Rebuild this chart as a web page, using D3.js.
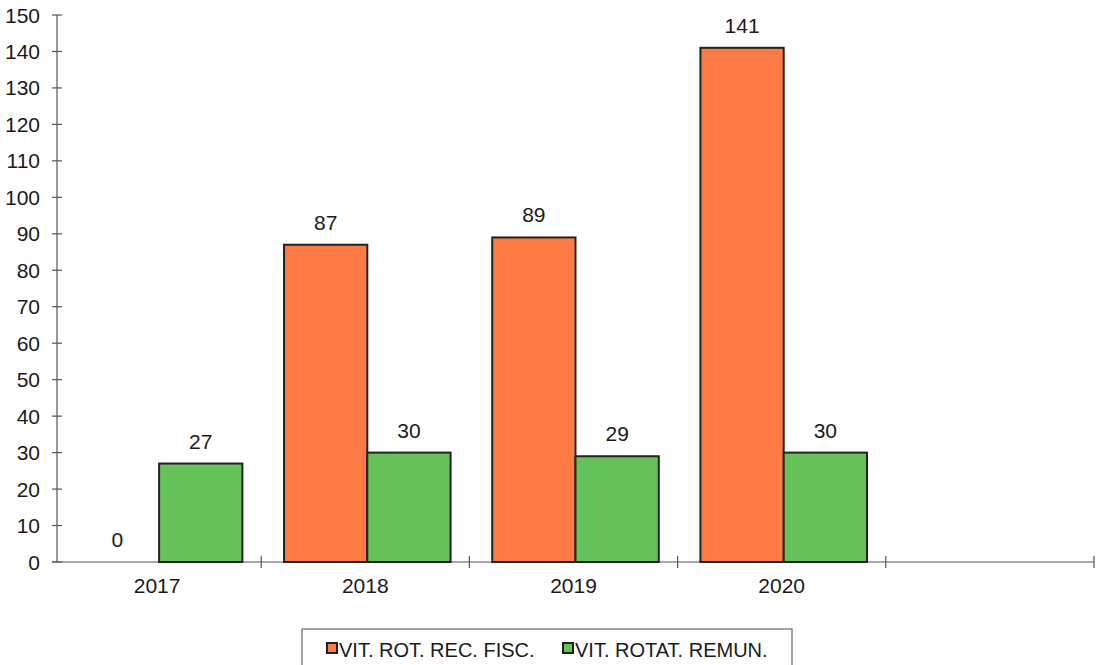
<!DOCTYPE html>
<html>
<head>
<meta charset="utf-8">
<script src="https://cdn.jsdelivr.net/npm/d3@7"></script>
<style>
  body { margin: 0; background: #fff; }
  text { font-family: "Liberation Sans", Arial, sans-serif; fill: #1a1a1a; }
</style>
</head>
<body>
<div id="chart"></div>
<script>
// categories (last slot is empty in the original chart)
const years = ["2017", "2018", "2019", "2020", ""];
const series = ["VIT. ROT. REC. FISC.", "VIT. ROTAT. REMUN."];
const fiscValues = [0, 87, 89, 141, null];
const remunValues = [27, 30, 29, 30, null];
const colors = ["#ff7b45", "#66c35a"];
const yTicks = d3.range(0, 151, 10);

const W = 1097, H = 665;
const svg = d3.select("#chart").append("svg")
  .attr("width", W).attr("height", H);

// scales
const x0 = d3.scaleBand().domain(years).range([53, 1094]);
const x1 = d3.scaleBand().domain(series).range([0, x0.bandwidth()])
  .paddingInner(0).paddingOuter(0.25);
const y = d3.scaleLinear().domain([0, 150]).range([562, 15]);

// y axis
const yAxis = svg.append("g").attr("transform", "translate(57,0)");
yAxis.append("line").attr("y1", y(0)).attr("y2", y(150)).attr("stroke", "#555").attr("stroke-width", 1.2);
yAxis.selectAll(".tk").data(yTicks).join("line")
  .attr("x1", -5).attr("x2", 5)
  .attr("y1", d => y(d)).attr("y2", d => y(d))
  .attr("stroke", "#555").attr("stroke-width", 1.2);
yAxis.selectAll(".lb").data(yTicks).join("text")
  .attr("x", -17).attr("y", d => y(d)).attr("dy", "0.36em")
  .attr("text-anchor", "end").attr("font-size", 21)
  .text(d => d);

// x axis
const xAxis = svg.append("g");
xAxis.append("line").attr("x1", 52).attr("x2", 1094)
  .attr("y1", y(0)).attr("y2", y(0)).attr("stroke", "#555").attr("stroke-width", 1.2);
const boundaries = years.map(d => x0(d)).concat([x0.range()[1]]).slice(1);
xAxis.selectAll(".tk").data(boundaries).join("line")
  .attr("x1", d => d).attr("x2", d => d)
  .attr("y1", y(0) - 6).attr("y2", y(0) + 6)
  .attr("stroke", "#555").attr("stroke-width", 1.2);
xAxis.selectAll(".lb").data(years).join("text")
  .attr("x", d => x0(d) + x0.bandwidth() / 2)
  .attr("y", 593).attr("text-anchor", "middle").attr("font-size", 21)
  .text(d => d);

// bars
const rows = years.map((yr, i) => ({ yr, vals: [fiscValues[i], remunValues[i]] }))
  .filter(r => r.vals[0] !== null);
const groups = svg.selectAll(".grp").data(rows).join("g")
  .attr("transform", d => `translate(${x0(d.yr) + 2},0)`);
groups.selectAll("rect").data(d => d.vals.map((v, j) => ({ v, s: series[j], j })))
  .join("rect")
  .filter(d => d.v > 0)
  .attr("x", d => x1(d.s))
  .attr("y", d => y(d.v))
  .attr("width", x1.bandwidth())
  .attr("height", d => y(0) - y(d.v))
  .attr("fill", d => colors[d.j])
  .attr("stroke", "#222").attr("stroke-width", 2);
groups.selectAll("text").data(d => d.vals.map((v, j) => ({ v, s: series[j] })))
  .join("text")
  .attr("x", d => x1(d.s) + x1.bandwidth() / 2)
  .attr("y", d => y(d.v) - 15)
  .attr("text-anchor", "middle").attr("font-size", 21)
  .text(d => d.v);

// legend
const lg = svg.append("g");
lg.append("rect").attr("x", 302).attr("y", 629).attr("width", 490).attr("height", 50)
  .attr("fill", "#fff").attr("stroke", "#666").attr("stroke-width", 1.2);
const legX = [327, 563];
series.forEach((s, i) => {
  lg.append("rect").attr("x", legX[i]).attr("y", 643).attr("width", 10).attr("height", 10)
    .attr("fill", colors[i]).attr("stroke", "#222").attr("stroke-width", 2);
  lg.append("text").attr("x", legX[i] + 12).attr("y", 657)
    .attr("font-size", 20).text(s);
});
</script>
</body>
</html>
